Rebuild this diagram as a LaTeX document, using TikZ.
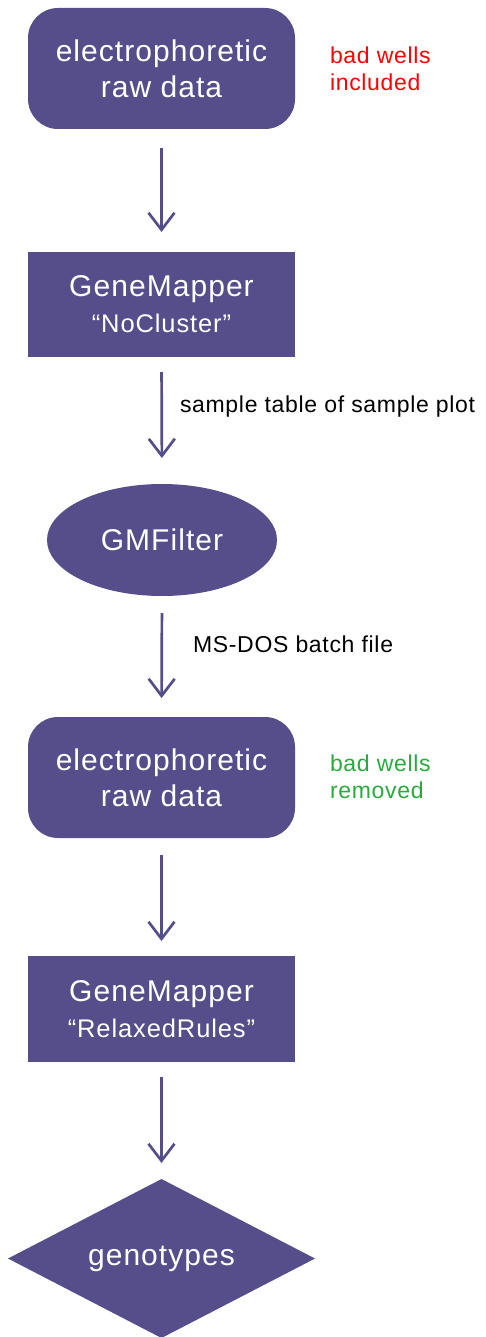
\documentclass[tikz,border=0pt]{standalone}
\usepackage{fontspec}
\setmainfont{Liberation Sans}[LetterSpace=3.5]
\newfontfamily\lblfont{Liberation Sans}[LetterSpace=3]
\usetikzlibrary{shapes.geometric,arrows.meta}
\definecolor{flowpurple}{RGB}{85,78,139}
\definecolor{badred}{RGB}{255,0,0}
\definecolor{goodgreen}{RGB}{40,170,60}
\begin{document}
\begin{tikzpicture}[x=1pt,y=-1pt,
  every node/.style={inner sep=0pt, outer sep=0pt},
  boxtext/.style={text=white, font=\fontsize{30}{36}\selectfont, align=center},
  rawbox/.style={boxtext, fill=flowpurple, rounded corners=30pt, minimum width=267pt, minimum height=121pt},
  gmbox/.style={boxtext, fill=flowpurple, minimum width=267pt, minimum height=106pt},
  filtbox/.style={boxtext, fill=flowpurple, ellipse, minimum width=230pt, minimum height=112pt},
  genobox/.style={boxtext, fill=flowpurple, diamond, shape aspect=2, minimum width=307pt, minimum height=159pt},
  flowarrow/.style={draw=flowpurple, line width=2.7pt, -{Straight Barb[length=17pt,width=26pt]}},
  note/.style={font=\lblfont\fontsize{23}{27}\selectfont, align=left, anchor=west}
]
\useasboundingbox (0,0) rectangle (486,1337);

\node[rawbox] (raw1) at (161.5,68.5) {electrophoretic\\raw data};
\node[gmbox, minimum height=105pt] (gm1) at (161.5,304.5) {GeneMapper\\{\fontsize{25.5}{35}\selectfont “NoCluster”}};
\node[filtbox] (filt) at (162,540) {GMFilter};
\node[rawbox] (raw2) at (161.5,777.5) {electrophoretic\\raw data};
\node[gmbox] (gm2) at (161.5,1009) {GeneMapper\\{\fontsize{25.5}{35}\selectfont “RelaxedRules”}};
\node[genobox] (geno) at (161.5,1258.5) {genotypes};

\node[note, text=badred] (n1) at (330,68.5) {bad wells\\included};
\node[note, text=goodgreen] (n2) at (330,776.5) {bad wells\\removed};
\node[note] (l1) at (180,407) {sample table of sample plot};
\node[note] (l2) at (193,644) {MS-DOS batch file};

\draw[flowarrow, shorten <=19pt, shorten >=20pt] (raw1.south) -- (gm1.north);
\draw[flowarrow, shorten <=15pt, shorten >=26pt] (gm1.south) -- (filt.north);
\draw[flowarrow, shorten <=17pt, shorten >=19pt] (filt.south) -- (raw2.north);
\draw[flowarrow, shorten <=17pt, shorten >=15pt] (raw2.south) -- (gm2.north);
\draw[flowarrow, shorten <=15pt, shorten >=16pt] (gm2.south) -- (geno.north);
\end{tikzpicture}
\end{document}
